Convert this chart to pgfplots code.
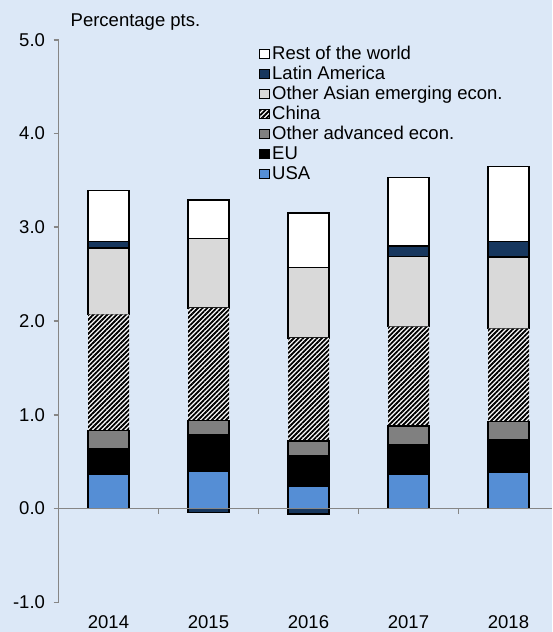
\documentclass[border=0pt]{standalone}
\usepackage{pgfplots}
\pgfplotsset{compat=1.18}
\usepackage{pgfplotstable}
\usepackage{fontspec}
\setmainfont{Liberation Sans}
\usetikzlibrary{patterns.meta}

\definecolor{bgblue}{RGB}{220,232,247}
\definecolor{usablue}{RGB}{85,142,213}
\definecolor{latnavy}{RGB}{23,55,94}
\definecolor{advgray}{RGB}{128,128,128}
\definecolor{asialight}{RGB}{217,217,217}
\definecolor{axgray}{RGB}{134,134,134}

% positive contributions, stacked from 0 upwards
\pgfplotstableread{
x usa eu oadv china oasia latam row
0 0.37 0.27 0.19 1.24 0.71 0.07 0.54
1 0.40 0.39 0.15 1.20 0.74 0.00 0.41
2 0.24 0.32 0.16 1.10 0.75 0.00 0.58
3 0.37 0.31 0.20 1.06 0.75 0.11 0.73
4 0.39 0.34 0.20 0.99 0.76 0.17 0.80
}\data
% negative contributions (Latin America), drawn below zero
\pgfplotstableread{
x latneg
1 -0.04
2 -0.06
}\negdata

\pgfplotsset{
  common/.style={
    at={(58.5pt,29.7pt)}, anchor=south west,
    scale only axis, width=493.5pt, height=562.6pt,
    bar width=41pt,
    xmin=-0.5, xmax=4.435, ymin=-1, ymax=5,
  },
  barstyle/.style={draw=black, line width=1.5pt},
}

\begin{document}
\begin{tikzpicture}[x=1pt,y=1pt]
\fill[bgblue] (0,0) rectangle (552,632);
\useasboundingbox (0,0) rectangle (552,632);
\node[anchor=base west, inner sep=0pt, font=\fontsize{18.5}{22}\selectfont] at (70.5,605) {Percentage pts.};
\begin{axis}[
    common,
    ybar stacked,
    axis lines*=left,
    axis line style={axgray, line width=1.6pt, -},
    x axis line style={draw=none},
    xtick={0,1,2,3,4},
    xticklabels={2014,2015,2016,2017,2018},
    x tick style={draw=none},
    xticklabel style={yshift=-4.5pt},
    ytick={-1,0,1,2,3,4,5},
    y tick style={axgray, line width=1.6pt},
    yticklabel style={xshift=-5pt},
    tick align=outside, major tick length=5pt,
    ticklabel style={font=\fontsize{18.5}{22}\selectfont},
    /pgf/number format/fixed,
    /pgf/number format/fixed zerofill,
    /pgf/number format/precision=1,
    /pgf/number format/assume math mode=true,
    legend style={at={(0.4063,0.9925)}, anchor=north west, draw=none, fill=none,
        font=\fontsize{18.5}{22}\selectfont, inner sep=0pt, row sep=0pt,
        nodes={inner sep=2pt, text height=13pt, text depth=3pt}},
    legend cell align=left,
    reverse legend,
    legend image code/.code={\draw[#1, line width=1pt] (0pt,-4.5pt) rectangle (10pt,5pt);},
]
\addplot[barstyle, fill=usablue] table[x=x,y=usa]{\data};
\addplot[barstyle, fill=black] table[x=x,y=eu]{\data};
\addplot[barstyle, fill=advgray] table[x=x,y=oadv]{\data};
\addplot[draw=none, preaction={fill=white},
    pattern={Lines[angle=45,distance=3.3pt,line width=1.8pt]}, pattern color=black]
    table[x=x,y=china]{\data};
\addplot[barstyle, fill=asialight] table[x=x,y=oasia]{\data};
\addplot[barstyle, fill=latnavy] table[x=x,y=latam]{\data};
\addplot[barstyle, fill=white] table[x=x,y=row]{\data};
\legend{USA, EU, Other advanced econ., China, Other Asian emerging econ., Latin America, Rest of the world}
\end{axis}
\begin{axis}[common, ybar, hide axis]
\addplot[barstyle, fill=latnavy] table[x=x,y=latneg]{\negdata};
\draw[axgray, line width=1.8pt] (axis cs:-0.5,0) -- (axis cs:4.435,0);
\pgfplotsinvokeforeach{0.5,1.5,2.5,3.5}{
    \draw[axgray, line width=1.6pt] (axis cs:#1,0) -- ++(0pt,-5pt);
}
\end{axis}
\end{tikzpicture}
\end{document}
